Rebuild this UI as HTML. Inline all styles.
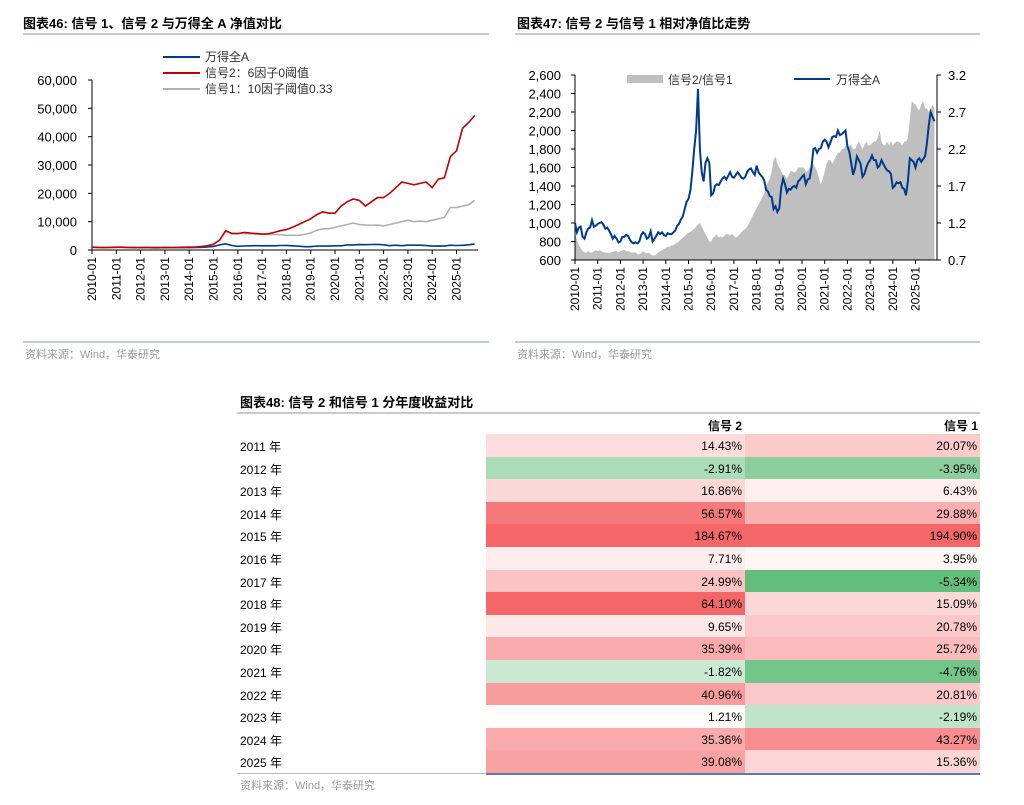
<!DOCTYPE html>
<html><head><meta charset="utf-8">
<style>
body{margin:0;background:#fff;width:1024px;height:805px;position:relative;overflow:hidden;font-family:"Liberation Sans","Noto Sans CJK SC",sans-serif;}
svg{position:absolute;left:0;top:0}
.tbl{position:absolute;left:237px;top:0;}
.row{position:absolute;left:0;width:743px;height:22.6px;}
.yr{position:absolute;left:3px;top:4px;font-size:12px;color:#000;}
.c{position:absolute;top:0;height:22.6px;font-size:12px;text-align:right;line-height:24px;box-sizing:border-box;padding-right:3px;color:#000}
</style></head><body>
<svg id="svg" width="1024" height="805"
 font-family="Liberation Sans, Noto Sans CJK SC, sans-serif">
<text x="23" y="28" font-size="13" font-weight="bold">图表46:  信号 1、信号 2 与万得全 A 净值对比</text>
<line x1="23" y1="34" x2="489" y2="34" stroke="#a9bcd2" stroke-width="1.5"/>
<line x1="23" y1="342" x2="489" y2="342" stroke="#a9bcd2" stroke-width="1.5"/>
<text x="25" y="358" font-size="11" fill="#999">资料来源：Wind，华泰研究</text>
<text x="517" y="28" font-size="13" font-weight="bold">图表47:  信号 2 与信号 1 相对净值比走势</text>
<line x1="515" y1="34" x2="980" y2="34" stroke="#a9bcd2" stroke-width="1.5"/>
<line x1="515" y1="342" x2="980" y2="342" stroke="#a9bcd2" stroke-width="1.5"/>
<text x="517" y="358" font-size="11" fill="#999">资料来源：Wind，华泰研究</text>
<text x="240" y="407" font-size="13" font-weight="bold">图表48:  信号 2 和信号 1 分年度收益对比</text>
<line x1="237" y1="413" x2="980" y2="413" stroke="#a9bcd2" stroke-width="1.5"/>
<text x="240" y="789" font-size="11" fill="#999">资料来源：Wind，华泰研究</text>
<g id="c46"></g>
<g id="c47"></g>
</svg>
<div class="tbl" id="tbl">
<div style="position:absolute;left:249px;top:417px;width:256px;text-align:right;font-size:12px;font-weight:bold">信号 2</div>
<div style="position:absolute;left:508px;top:417px;width:233px;text-align:right;font-size:12px;font-weight:bold">信号 1</div>
</div>
<script>
// ---------- Chart 46 data (quarterly, from 2010Q1) ----------
const c46Signal2=[1000,900,850,900, 950,950,900,850, 850,900,850,850, 900,850,900,950, 1000,1050,1200,1500, 2000,3500,6800,5800, 5800,6200,6000,5800, 5600,5700,6200,6800, 7200,8000,9000,10000, 11000,12500,13500,13000, 13000,15500,17000,18000, 17500,15500,17000,18500, 18500,20000,22000,24000, 23500,23000,23500,24000, 22000,25000,25500,33000, 35000,43000,45000,47500];
const c46Signal1=[1000,950,900,950, 1000,1000,950,900, 900,950,900,900, 950,900,950,1000, 1050,1100,1250,1500, 2000,3500,6500,6000, 5800,5800,5700,5600, 5500,5500,5500,5400, 5200,5200,5200,5500, 6000,7000,7500,7500, 8000,8500,9000,9500, 9000,8800,8700,8800, 8500,9000,9500,10000, 10500,10000,10200,10000, 10500,11000,11500,15000, 15000,15500,16000,17500];
const c46WindA=[1000,900,950,960, 990,980,920,830, 800,870,790,790, 900,850,830,880, 860,880,970,1070, 1260,1800,2200,1600, 1300,1420,1480,1510, 1490,1520,1500,1590, 1620,1500,1340,1150, 1160,1420,1360,1380, 1500,1470,1800,1800, 1900,1870,1930,1960, 1830,1520,1680,1530, 1680,1680,1680,1570, 1380,1430,1370,1700, 1600,1660,1850,2150];
const c46YTicks=[0,10000,20000,30000,40000,50000,60000];
const c46XLabels=["2010-01","2011-01","2012-01","2013-01","2014-01","2015-01","2016-01","2017-01","2018-01","2019-01","2020-01","2021-01","2022-01","2023-01","2024-01","2025-01"];
// ---------- Chart 47 data (monthly, from 2010-01) ----------
const c47WindA=[1000,900,950,960,850,830,900,940,950,1030,960,970,
990,1000,1010,980,940,950,920,880,830,860,830,790,
800,850,850,870,860,820,790,780,790,780,800,870,
900,880,830,850,910,800,830,860,900,880,900,870,
860,890,880,880,900,920,970,990,1040,1070,1150,1230,
1260,1350,1550,1800,2000,2450,1800,1550,1450,1650,1700,1650,
1300,1320,1400,1420,1410,1450,1480,1500,1470,1510,1550,1500,
1490,1520,1550,1520,1490,1480,1500,1550,1580,1590,1550,1520,
1620,1550,1520,1500,1460,1360,1340,1290,1280,1150,1180,1120,
1160,1380,1480,1420,1330,1370,1360,1390,1400,1380,1450,1470,
1500,1520,1420,1470,1480,1600,1800,1810,1760,1800,1810,1880,
1900,1880,1820,1870,1930,1940,1930,2000,1950,1960,1980,2000,
1830,1770,1650,1520,1590,1720,1680,1640,1500,1530,1600,1650,
1680,1730,1680,1680,1600,1620,1680,1640,1600,1570,1560,1530,
1380,1400,1440,1430,1440,1380,1370,1300,1450,1700,1680,1660,
1600,1680,1700,1660,1690,1720,1850,2050,2200,2150,2100];
const c47Ratio=[1.06,0.98,0.9,0.86,0.82,0.8,0.8,0.82,0.8,0.8,0.82,0.83,
0.82,0.83,0.82,0.8,0.8,0.8,0.79,0.8,0.81,0.82,0.82,0.8,
0.82,0.83,0.84,0.82,0.82,0.81,0.8,0.8,0.8,0.78,0.78,0.79,
0.82,0.8,0.79,0.8,0.78,0.76,0.76,0.78,0.8,0.82,0.83,0.85,
0.86,0.88,0.88,0.9,0.9,0.92,0.93,0.95,0.98,1.0,1.02,1.05,
1.07,1.08,1.1,1.12,1.15,1.18,1.2,1.15,1.1,1.05,1.0,0.95,
0.95,1.0,1.02,1.05,1.0,1.02,1.0,1.03,1.05,1.05,1.03,1.05,
1.03,1.0,1.02,1.05,1.08,1.1,1.12,1.15,1.2,1.25,1.3,1.35,
1.4,1.45,1.5,1.55,1.6,1.7,1.75,1.8,1.9,2.05,2.1,2.0,
1.95,1.9,1.85,1.85,1.8,1.85,1.9,1.9,1.88,1.9,1.95,1.95,
1.95,1.95,1.9,1.9,1.95,2.0,2.0,1.95,1.9,1.8,1.72,1.8,
1.9,2.0,2.05,2.05,2.0,2.05,2.1,2.15,2.15,2.2,2.2,2.25,
2.2,2.25,2.25,2.2,2.2,2.25,2.3,2.25,2.2,2.25,2.3,2.25,
2.25,2.28,2.3,2.3,2.35,2.45,2.3,2.25,2.25,2.3,2.25,2.3,
2.25,2.28,2.3,2.3,2.28,2.25,2.3,2.3,2.35,2.6,2.85,2.82,
2.8,2.75,2.72,2.8,2.85,2.75,2.75,2.7,2.72,2.8,2.75];
const c47LeftTicks=[600,800,1000,1200,1400,1600,1800,2000,2200,2400,2600];
const c47RightTicks=[0.7,1.2,1.7,2.2,2.7,3.2];
// ---------- Table data ----------
const tYears=["2011","2012","2013","2014","2015","2016","2017","2018","2019","2020","2021","2022","2023","2024","2025"];
const tSignal2=[14.43,-2.91,16.86,56.57,184.67,7.71,24.99,64.10,9.65,35.39,-1.82,40.96,1.21,35.36,39.08];
const tSignal1=[20.07,-3.95,6.43,29.88,194.90,3.95,-5.34,15.09,20.78,25.72,-4.76,20.81,-2.19,43.27,15.36];

const NS="http://www.w3.org/2000/svg";
function mk(parent,tag,attrs){const e=document.createElementNS(NS,tag);for(const k in attrs)e.setAttribute(k,attrs[k]);parent.appendChild(e);return e;}
const fmt=v=>v.toLocaleString('en-US');

// ---- Chart 46 ----
(function(){
const g=document.getElementById('c46');
const x0=92,pxYear=24.3,y0=250,yTop=80,yMax=60000;
const xs=t=>x0+t*pxYear;
const ys=v=>y0-(v/yMax)*(y0-yTop);
let a=mk(g,'line',{x1:x0,y1:yTop,x2:x0,y2:y0,stroke:'#000','stroke-width':1});


a=mk(g,'line',{x1:x0,y1:y0,x2:478,y2:y0,stroke:'#000','stroke-width':1});


c46YTicks.forEach(v=>{
 const y=ys(v);
 const t=mk(g,'line',{x1:x0-4,y1:y,x2:x0,y2:y,stroke:'#000'});
 
 
 const l=mk(g,'text',{x:77,y:y+5,'font-size':13,'text-anchor':'end'});l.textContent=fmt(v);
 
 
});
c46XLabels.forEach((s,i)=>{
 const x=xs(i);
 const t=mk(g,'line',{x1:x,y1:y0,x2:x,y2:y0+4,stroke:'#000'});
 
 
 const l=mk(g,'text',{x:x+4,y:257,'font-size':12,'text-anchor':'end',transform:`rotate(-90 ${x+4} 257)`});l.textContent=s;
 
 
});
function line(arr,col,name){
 const d=arr.map((v,i)=>(i?'L':'M')+xs(i*0.25).toFixed(1)+' '+ys(v).toFixed(1)).join(' ');
 const p=mk(g,'path',{d,fill:'none',stroke:col,'stroke-width':1.6});
 
 
}
line(c46WindA,'#003a8c','series-wind-a');
line(c46Signal1,'#b0b0b0','series-signal1');
line(c46Signal2,'#c00000','series-signal2');
const leg=[['#003a8c','万得全A'],['#c00000','信号2：6因子0阈值'],['#b0b0b0','信号1：10因子阈值0.33']];
leg.forEach((e,i)=>{
 const y=57+i*16;
 const l=mk(g,'line',{x1:163,y1:y,x2:200,y2:y,stroke:e[0],'stroke-width':2});
 
 
 const t=mk(g,'text',{x:205,y:y+4,'font-size':12,fill:'#333'});t.textContent=e[1];
 
 
});
})();

// ---- Chart 47 ----
(function(){
const g=document.getElementById('c47');
const x0=575,x1=937,pxYear=22.7,y0=260,yTop=75;
const xs=t=>x0+t*pxYear;
const yl=v=>y0-(v-600)/2000*(y0-yTop);
const yr=v=>y0-(v-0.7)/2.5*(y0-yTop);
const pts=c47Ratio.map((v,i)=>xs(i/12).toFixed(1)+','+yr(v).toFixed(1));
const area=mk(g,'polygon',{points:`${x0},${y0} `+pts.join(' ')+` ${xs((c47Ratio.length-1)/12).toFixed(1)},${y0}`,fill:'#bfbfbf'});


let a=mk(g,'line',{x1:x0,y1:yTop,x2:x0,y2:y0,stroke:'#000'});


a=mk(g,'line',{x1:x1,y1:yTop,x2:x1,y2:y0,stroke:'#000'});


a=mk(g,'line',{x1:x0,y1:y0,x2:x1,y2:y0,stroke:'#000'});


c47LeftTicks.forEach(v=>{
 const y=yl(v);
 const t=mk(g,'line',{x1:x0-4,y1:y,x2:x0,y2:y,stroke:'#000'});
 
 
 const l=mk(g,'text',{x:561,y:y+5,'font-size':13,'text-anchor':'end'});l.textContent=fmt(v);
 
 
});
c47RightTicks.forEach(v=>{
 const y=yr(v);
 const t=mk(g,'line',{x1:x1,y1:y,x2:x1+4,y2:y,stroke:'#000'});
 
 
 const l=mk(g,'text',{x:948,y:y+5,'font-size':13});l.textContent=v.toFixed(1);
 
 
});
c46XLabels.forEach((s,i)=>{
 const x=xs(i);
 const t=mk(g,'line',{x1:x,y1:y0,x2:x,y2:y0+4,stroke:'#000'});
 
 
 const l=mk(g,'text',{x:x+4,y:267,'font-size':12,'text-anchor':'end',transform:`rotate(-90 ${x+4} 267)`});l.textContent=s;
 
 
});
const d=c47WindA.map((v,i)=>(i?'L':'M')+xs(i/12).toFixed(1)+' '+yl(v).toFixed(1)).join(' ');
const p=mk(g,'path',{d,fill:'none',stroke:'#003a8c','stroke-width':2});


let r=mk(g,'rect',{x:627,y:75,width:36,height:8,fill:'#bfbfbf'});


let t=mk(g,'text',{x:668,y:84,'font-size':12,fill:'#333'});t.textContent='信号2/信号1';


r=mk(g,'line',{x1:794,y1:79,x2:830,y2:79,stroke:'#003a8c','stroke-width':2});


t=mk(g,'text',{x:836,y:84,'font-size':12,fill:'#333'});t.textContent='万得全A';


})();

// ---- Table ----
(function(){
const tb=document.getElementById('tbl');
function color(v,maxPos,minNeg){
 if(v<0){const f=Math.min(1,v/minNeg);const w=[255,255,255],g=[99,190,123];return `rgb(${w.map((c,i)=>Math.round(c+(g[i]-c)*f)).join(',')})`;}
 const f=Math.min(1,v/maxPos);const w=[255,255,255],r=[244,102,104];return `rgb(${w.map((c,i)=>Math.round(c+(r[i]-c)*f)).join(',')})`;
}
tYears.forEach((y,i)=>{
 const row=document.createElement('div');row.className='row';row.style.top=(434+i*22.6)+'px';
 
 
 const yl=document.createElement('div');yl.className='yr';yl.textContent=y+' 年';
 
 
 row.appendChild(yl);
 const c2=document.createElement('div');c2.className='c';c2.style.left='249px';c2.style.width='259px';
 c2.style.background=color(tSignal2[i],64,-5.34);c2.textContent=tSignal2[i].toFixed(2)+'%';
 
 
 const c1=document.createElement('div');c1.className='c';c1.style.left='508px';c1.style.width='235px';
 c1.style.background=color(tSignal1[i],58,-5.34);c1.textContent=tSignal1[i].toFixed(2)+'%';
 
 
 row.appendChild(c2);row.appendChild(c1);tb.appendChild(row);
});
const ln=document.createElement('div');
ln.style.cssText='position:absolute;left:0;top:773px;width:743px;height:1px;background:#a9bcd2';


tb.appendChild(ln);
const ln2=document.createElement('div');
ln2.style.cssText='position:absolute;left:249px;top:773px;width:494px;height:2px;background:#5b7bb0';


tb.appendChild(ln2);
})();
</script>
</body></html>
